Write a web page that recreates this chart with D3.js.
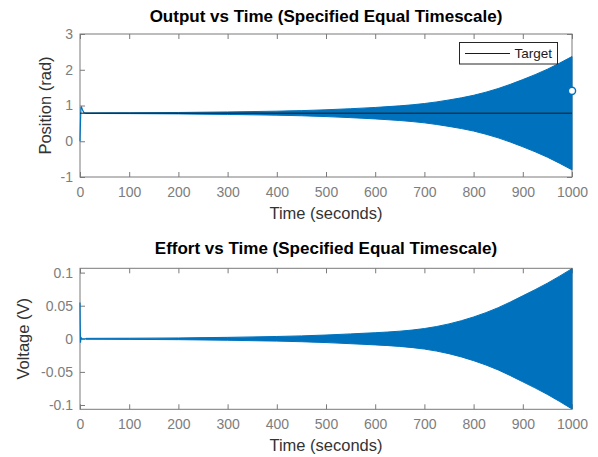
<!DOCTYPE html>
<html>
<head>
<meta charset="utf-8">
<script src="https://cdn.jsdelivr.net/npm/d3@7"></script>
<style>
  html, body { margin: 0; padding: 0; background: #fff; }
  svg { display: block; font-family: "Liberation Sans", Arial, Helvetica, sans-serif; }
</style>
</head>
<body>
<svg id="chart" width="598" height="457"></svg>
<script>
// ---- data -------------------------------------------------------------
const xTicks = [0, 100, 200, 300, 400, 500, 600, 700, 800, 900, 1000];
const posTicks = [-1, 0, 1, 2, 3];
const voltTicks = [-0.1, -0.05, 0, 0.05, 0.1];

// start-up transient of the output (seconds, rad)
const posStartT = [0, 1, 2, 3, 5, 8, 12];
const posStartV = [0, 0.55, 0.95, 0.96, 0.88, 0.80, 0.785];

// growing oscillation: envelope half-amplitude around the target (rad)
const envT = [12, 100, 200, 300, 400, 450, 500, 550, 600, 650, 700, 750, 800, 850, 900, 950, 1000];
const posAmp = [0.008, 0.012, 0.02, 0.035, 0.056, 0.072, 0.095, 0.125, 0.16, 0.205, 0.27, 0.37, 0.50, 0.69, 0.94, 1.23, 1.585];
const targetRad = 0.785;
const finalT = 1000;
const finalPos = 1.41;

// start-up transient of the effort (seconds, V)
const voltStartT = [0, 0.5, 1, 2, 4, 12];
const voltStartV = [0.055, 0.02, -0.006, 0.002, 0, 0];
// envelope half-amplitude of the effort (V)
const voltAmp = [0.0007, 0.0009, 0.0013, 0.0022, 0.0035, 0.0044, 0.0057, 0.0074, 0.0092, 0.0115, 0.0155, 0.0225, 0.033, 0.047, 0.065, 0.084, 0.106];

// ---- drawing ----------------------------------------------------------
const BLUE = "#0072BD";
const svg = d3.select("#chart");

const x = d3.scaleLinear().domain([0, 1000]).range([80, 572]);

function panel(opts) {
  const { y, yTicks, top, bottom, title, titleY, yLabel, yLabelX, xLabelY } = opts;
  const g = svg.append("g");

  const fmt = d => String(d);
  const styleAxis = sel => {
    sel.select(".domain").remove();
    sel.selectAll(".tick line").attr("stroke", "#7a7a7a");
    sel.selectAll(".tick text").attr("fill", "#7d7d7d").style("font-size", "14px");
  };

  g.append("g").attr("transform", `translate(0,${bottom})`)
    .call(d3.axisBottom(x).tickValues(xTicks).tickFormat(fmt).tickSizeInner(-5).tickSizeOuter(0).tickPadding(10))
    .call(styleAxis);
  g.append("g").attr("transform", `translate(0,${top})`)
    .call(d3.axisTop(x).tickValues(xTicks).tickFormat("").tickSizeInner(-5).tickSizeOuter(0))
    .call(styleAxis);
  g.append("g").attr("transform", `translate(${x.range()[0]},0)`)
    .call(d3.axisLeft(y).tickValues(yTicks).tickFormat(fmt).tickSizeInner(-5).tickSizeOuter(0).tickPadding(7))
    .call(styleAxis);
  g.append("g").attr("transform", `translate(${x.range()[1]},0)`)
    .call(d3.axisRight(y).tickValues(yTicks).tickFormat("").tickSizeInner(-5).tickSizeOuter(0))
    .call(styleAxis);

  g.append("rect")
    .attr("x", x.range()[0]).attr("y", top)
    .attr("width", x.range()[1] - x.range()[0]).attr("height", bottom - top)
    .attr("fill", "none").attr("stroke", "#7a7a7a").attr("stroke-width", 1);

  g.append("text").attr("x", (x.range()[0] + x.range()[1]) / 2).attr("y", titleY)
    .attr("text-anchor", "middle").attr("fill", "#000")
    .style("font-size", "17px").style("font-weight", "bold").text(title);

  g.append("text").attr("x", (x.range()[0] + x.range()[1]) / 2).attr("y", xLabelY)
    .attr("text-anchor", "middle").attr("fill", "#333")
    .style("font-size", "16.5px").text("Time (seconds)");

  g.append("text")
    .attr("transform", `translate(${yLabelX},${(top + bottom) / 2}) rotate(-90)`)
    .attr("text-anchor", "middle").attr("fill", "#333")
    .style("font-size", "16.5px").text(yLabel);

  return g;
}

// ---------- Output vs Time ----------
const yPos = d3.scaleLinear().domain([-1, 3]).range([177, 34]);
const gTop = panel({
  y: yPos, yTicks: posTicks, top: 34, bottom: 177,
  title: "Output vs Time (Specified Equal Timescale)", titleY: 22,
  yLabel: "Position (rad)", yLabelX: 50.5, xLabelY: 218.5
});

const posEnv = envT.map((t, i) => ({ t, a: posAmp[i] }));
gTop.append("path").datum(posEnv)
  .attr("fill", BLUE).attr("stroke", BLUE).attr("stroke-width", 1)
  .attr("d", d3.area().curve(d3.curveMonotoneX).x(d => x(d.t))
    .y0(d => yPos(targetRad - d.a)).y1(d => yPos(targetRad + d.a)));

gTop.append("path").datum(posStartT.map((t, i) => ({ t, v: posStartV[i] })))
  .attr("fill", "none").attr("stroke", BLUE).attr("stroke-width", 1.2)
  .attr("d", d3.line().x(d => x(d.t)).y(d => yPos(d.v)));

// target reference
gTop.append("line")
  .attr("x1", x(0)).attr("x2", x(1000))
  .attr("y1", yPos(targetRad)).attr("y2", yPos(targetRad))
  .attr("stroke", "#1a1a1a").attr("stroke-width", 1);

// final sample marker
gTop.append("circle")
  .attr("cx", x(finalT)).attr("cy", yPos(finalPos)).attr("r", 3.6)
  .attr("fill", "#fff").attr("stroke", BLUE).attr("stroke-width", 1.4);

// legend
const lg = gTop.append("g");
lg.append("rect").attr("x", 459.5).attr("y", 42.5).attr("width", 98).attr("height", 21.5)
  .attr("fill", "#fff").attr("stroke", "#262626").attr("stroke-width", 1);
lg.append("line").attr("x1", 465).attr("x2", 510).attr("y1", 53.5).attr("y2", 53.5)
  .attr("stroke", "#1a1a1a").attr("stroke-width", 1);
lg.append("text").attr("x", 514.5).attr("y", 58.3).attr("fill", "#1a1a1a")
  .style("font-size", "13.5px").text("Target");

// ---------- Effort vs Time ----------
const yVolt = d3.scaleLinear().domain([-0.1065, 0.1065]).range([409.3, 268.3]);
const gBot = panel({
  y: yVolt, yTicks: voltTicks, top: 268.3, bottom: 409.3,
  title: "Effort vs Time (Specified Equal Timescale)", titleY: 254,
  yLabel: "Voltage (V)", yLabelX: 28.5, xLabelY: 450.5
});

const voltEnv = envT.map((t, i) => ({ t, a: voltAmp[i] }));
gBot.append("path").datum(voltEnv)
  .attr("fill", BLUE).attr("stroke", BLUE).attr("stroke-width", 1)
  .attr("d", d3.area().curve(d3.curveMonotoneX).x(d => x(d.t))
    .y0(d => yVolt(-d.a)).y1(d => yVolt(d.a)));

gBot.append("path").datum(voltStartT.map((t, i) => ({ t, v: voltStartV[i] })))
  .attr("fill", "none").attr("stroke", BLUE).attr("stroke-width", 1.2)
  .attr("d", d3.line().x(d => x(d.t)).y(d => yVolt(d.v)));
</script>
</body>
</html>
